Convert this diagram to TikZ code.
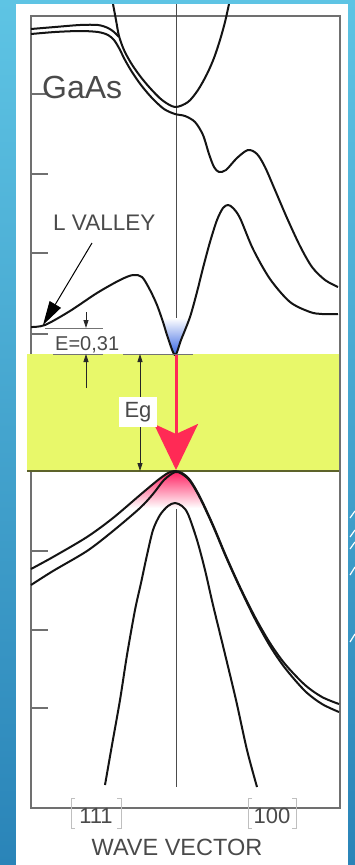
\documentclass[tikz,border=0pt]{standalone}
\usepackage{fontspec}
\setmainfont{Liberation Sans}
\usetikzlibrary{arrows.meta}
\definecolor{bgtop}{HTML}{5EC4E4}
\definecolor{bgbot}{HTML}{2A84B8}
\definecolor{bandyellow}{HTML}{E8F86A}
\definecolor{framegray}{HTML}{707070}
\definecolor{txtgray}{HTML}{4A4A4A}
\definecolor{redarrow}{HTML}{FF2A55}
\definecolor{glowblue}{HTML}{2A5BE0}
\definecolor{glowpink}{HTML}{FF1F60}
\tikzset{
  curve/.style={line width=2pt, draw=black!92, line join=round},
  framel/.style={line width=1.5pt, draw=framegray},
  tickl/.style={line width=1.5pt, draw=framegray},
  dimline/.style={line width=0.8pt, draw=black!85},
  extline/.style={line width=0.8pt, draw=black!55},
  lbl/.style={text=txtgray, inner sep=0pt},
  smallhead/.style={-{Triangle[length=8pt,width=5pt]}},
  deco/.style={draw=white, line width=1.2pt},
}
\begin{document}
\begin{tikzpicture}[x=1pt,y=-1pt]
\useasboundingbox (0,0) rectangle (355,865);
% slide background
\shade[top color=bgtop, bottom color=bgbot] (0,0) rectangle (355,865);
\fill[white] (16,4) rectangle (348,865);
% decorative white strokes at the right edge
\draw[deco] (350,518) -- (355,511);
\draw[deco] (350,537) -- (355,530);
\draw[deco] (350,549) -- (355,542);
\draw[deco] (350,575) -- (355,567);
\draw[deco] (350,642) -- (355,634);
% frame, centre line, ticks
\draw[framel] (31,16) rectangle (340,808);
\draw[line width=1pt, draw=black!70] (176,4) -- (176,787);
\foreach \ty in {94,174,253,334,413,551,630,708}
  \draw[tickl] (31,\ty) -- (48,\ty);
% energy gap band
\fill[bandyellow] (27,354) rectangle (339,471);
\draw[line width=1.5pt, draw=black!60!bandyellow] (27,471) -- (339,471);
% glows
\begin{scope}
  \clip plot[smooth] coordinates {(150,290) (157,305) (163,322) (168,338) (175,355) (181,340) (190,317) (197,292)} -- cycle;
  \shade[top color=white, bottom color=glowblue] (145,318) rectangle (205,357);
\end{scope}
\begin{scope}
  \clip plot[smooth] coordinates {(113,518) (140,495) (158,480) (168,473) (175,471) (182,473) (190,480) (200,497) (213,525)} -- (213,540) -- (113,540) -- cycle;
  \shade[top color=glowpink, bottom color=white] (110,471) rectangle (220,508);
\end{scope}
% band curves
\begin{scope}
\clip (16,4) rectangle (348,865);
\draw[curve] plot[smooth] coordinates {(113,4) (116,20) (119,36) (124,50) (131,63) (140,76) (150,88) (162,100) (175,107) (188,102) (198,90) (207,74) (214,58) (220,40) (225,22) (229,4)};
\draw[curve] plot[smooth] coordinates {(31,29) (55,27) (80,25) (98,25) (108,28) (114,32) (119,37)};
\draw[curve] plot[smooth] coordinates {(31,34) (55,32) (80,31) (98,32) (108,35) (114,40) (119,48) (125,60) (132,72) (141,85) (152,98) (164,109) (175,114) (185,116) (195,122) (203,135) (209,154) (214,167) (219,172) (226,170) (237,158) (248,150) (257,154) (265,167) (275,190) (287,218) (300,246) (312,267) (325,280) (338,287)};
\draw[curve] plot[smooth] coordinates {(31,327) (45,325) (70,311) (97,293) (120,280) (133,275) (142,277) (150,290) (157,305) (163,322) (168,338) (175,355) (181,340) (190,317) (197,292) (203,268) (210,242) (217,220) (223,208) (228,205) (233,208) (240,218) (253,249) (270,279) (290,302) (310,312) (322,314) (338,314)};
\draw[curve] plot[smooth] coordinates {(31,569) (53,557) (87,537) (113,518) (140,495) (158,480) (168,473) (175,471) (182,473) (190,480) (200,497) (213,525) (226,556) (240,587) (255,617) (270,643) (285,664) (305,685) (322,697) (339,704)};
\draw[curve] plot[smooth] coordinates {(31,585) (53,571) (87,551) (113,531) (140,508) (153,494) (164,480) (175,472) (182,474) (190,481) (200,498) (213,526) (226,557) (240,588) (255,619) (270,646) (285,668) (305,691) (322,704) (339,712)};
\draw[curve] plot[smooth] coordinates {(105,785) (112,745) (120,700) (127,655) (135,610) (141,583) (147,555) (153,530) (160,515) (168,506) (175,503) (182,506) (188,514) (197,540) (205,570) (213,605) (224,650) (236,700) (247,750) (257,787)};
\end{scope}
% dimension lines
\draw[extline] (45,328) -- (103,328);
\draw[extline] (53,354) -- (103,354);
\draw[extline] (123,354) -- (193,354);
\coordinate (edtop) at (86,312);
\coordinate (edbot) at (86,328);
\coordinate (eutop) at (86,354);
\coordinate (eubot) at (86,388);
\coordinate (egtop) at (140,354);
\coordinate (egbot) at (140,471);
\draw[dimline, smallhead] (edtop) -- (edbot);
\draw[dimline, smallhead] (eubot) -- (eutop);
\draw[dimline, {Triangle[length=8pt,width=5pt]}-{Triangle[length=8pt,width=5pt]}] (egtop) -- (egbot);
% L valley arrow
\coordinate (lvstart) at (92,243);
\coordinate (lvtip) at (43,325);
\draw[line width=1pt, -{Triangle[length=24pt,width=13pt]}] (lvstart) -- (lvtip);
% recombination arrow
\coordinate (rtop) at (176,355);
\coordinate (rbot) at (176,470);
\draw[redarrow, line width=3pt, -{Stealth[length=46pt,width=44pt,inset=10pt]}] (rtop) -- (rbot);
% labels
\node[lbl, anchor=base west, font=\fontsize{32}{36}\selectfont] (gaas) at (42,98) {GaAs};
\node[lbl, anchor=base west, font=\fontsize{22.5}{26}\selectfont] (lvalley) at (53,230) {L VALLEY};
\node[lbl, anchor=base west, font=\fontsize{20}{24}\selectfont] (e031) at (55,350) {E=0,31};
\node[fill=white, text=txtgray, inner xsep=6pt, inner ysep=5pt, font=\fontsize{22}{26}\selectfont] (eg) at (138,412) {Eg};
\node[lbl, anchor=base, font=\fontsize{22}{26}\selectfont] (k111) at (96,823) {111};
\node[lbl, anchor=base, font=\fontsize{22}{26}\selectfont] (k100) at (272,823) {100};
\node[lbl, anchor=base, font=\fontsize{23.5}{28}\selectfont] (wv) at (177,855) {WAVE VECTOR};
% brackets
\draw[black!25, line width=1pt] (75,798) -- (71,798) -- (71,828) -- (75,828);
\draw[black!25, line width=1pt] (117,798) -- (121,798) -- (121,828) -- (117,828);
\draw[black!25, line width=1pt] (252,798) -- (248,798) -- (248,828) -- (252,828);
\draw[black!25, line width=1pt] (292,798) -- (296,798) -- (296,828) -- (292,828);
\end{tikzpicture}
\end{document}
